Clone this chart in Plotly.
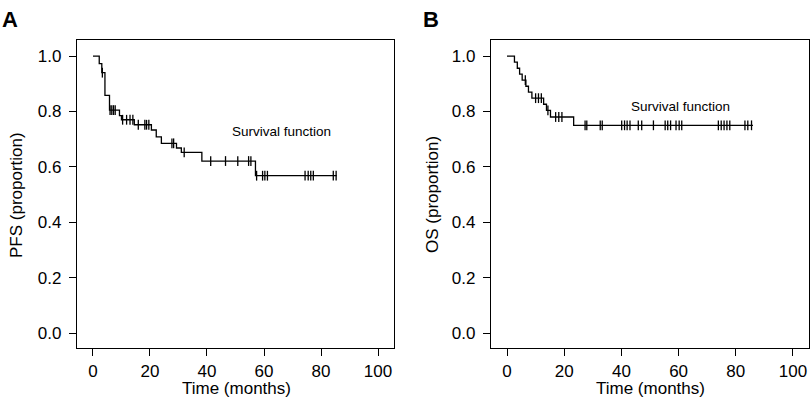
import plotly.graph_objects as go

# ---------------- data ----------------
pfs_event_times = [0, 2.2, 3.1, 4.2, 5.8, 9.3, 10.0, 14.5, 20.5, 22.2, 24.0, 29.3, 31.0, 38.2, 57.0]
pfs_surv = [1.0, 0.973, 0.94, 0.858, 0.805, 0.785, 0.770, 0.752, 0.733, 0.708, 0.685, 0.668, 0.652, 0.621, 0.568]
pfs_end = 85.5
pfs_censor = [3.3, 6.0, 6.6, 7.2, 7.8, 10.4, 11.8, 13.0, 14.0, 15.9, 18.2, 18.8, 19.6,
              27.7, 28.3, 32.0, 41.3, 46.5, 50.8, 54.6, 55.4, 57.4, 59.5, 60.3, 61.2,
              74.4, 75.5, 76.4, 77.3, 84.3, 85.3]

os_event_times = [0, 2.6, 3.6, 4.4, 5.3, 6.6, 7.5, 8.7, 12.8, 13.8, 15.2, 23.3]
os_surv = [1.0, 0.978, 0.956, 0.935, 0.913, 0.891, 0.870, 0.848, 0.826, 0.804, 0.780, 0.750]
os_end = 86.0
os_censor = [6.4, 10.0, 11.0, 12.0, 14.3, 17.0, 18.1, 19.2, 27.3, 27.9, 32.6, 33.3,
             40.1, 41.1, 42.0, 43.0, 45.9, 47.1, 51.2, 55.3, 56.2, 57.2, 59.1, 60.2, 61.1,
             73.9, 74.9, 75.9, 76.9, 77.9, 83.2, 84.2, 85.5]

x_ticks = [0, 20, 40, 60, 80, 100]
y_ticks = [0.0, 0.2, 0.4, 0.6, 0.8, 1.0]
y_tick_labels = ["0.0", "0.2", "0.4", "0.6", "0.8", "1.0"]

panel_labels = ["A", "B"]
y_titles = ["PFS (proportion)", "OS (proportion)"]
x_title = "Time (months)"
curve_label = "Survival function"


def surv_at(t, times, surv):
    s = surv[0]
    for ti, si in zip(times, surv):
        if ti <= t:
            s = si
    return s


W, H = 810, 401
FONT = "Liberation Sans, Arial, Helvetica, sans-serif"

fig = go.Figure()

panels = [
    (pfs_event_times, pfs_surv, pfs_end, pfs_censor, "x", "y"),
    (os_event_times, os_surv, os_end, os_censor, "x2", "y2"),
]
for times, surv, end, cens, xa, ya in panels:
    fig.add_trace(go.Scatter(
        x=times + [end], y=surv + [surv[-1]], mode="lines",
        line=dict(color="black", width=1.3, shape="hv"),
        xaxis=xa, yaxis=ya, showlegend=False, hoverinfo="skip"))
    fig.add_trace(go.Scatter(
        x=cens, y=[surv_at(c, times, surv) for c in cens], mode="markers",
        marker=dict(symbol="line-ns-open", size=7, color="black",
                    line=dict(color="black", width=1.3)),
        xaxis=xa, yaxis=ya, showlegend=False, hoverinfo="skip"))

ydom = [1 - 348 / H, 1 - 40 / H]
xdomA = [77 / W, 394 / W]
xdomB = [491 / W, 809 / W]

axis_common = dict(
    showgrid=False, zeroline=False, showline=True, linecolor="black", linewidth=1.3,
    mirror=True, ticks="outside", ticklen=7, tickwidth=1.2, tickcolor="black",
    tickfont=dict(family=FONT, size=17, color="black"),
)

xcommon = dict(axis_common, range=[-5.6, 105.6], tickvals=x_ticks,
               ticktext=[str(v) for v in x_ticks])
ycommon = dict(axis_common, range=[-0.054, 1.058], tickvals=y_ticks, ticktext=y_tick_labels,
               ticklabelstandoff=4)

fig.update_layout(
    width=W, height=H,
    margin=dict(l=0, r=0, t=0, b=0),
    paper_bgcolor="white", plot_bgcolor="white",
    xaxis=dict(xcommon, domain=xdomA, anchor="y"),
    yaxis=dict(ycommon, domain=ydom, anchor="x"),
    xaxis2=dict(xcommon, domain=xdomB, anchor="y2"),
    yaxis2=dict(ycommon, domain=ydom, anchor="x2"),
    font=dict(family=FONT, color="black"),
)

ann = []
# panel letters
for lab, px in zip(panel_labels, [10, 431]):
    ann.append(dict(text="<b>%s</b>" % lab, x=px / W, y=1 - 19 / H, xref="paper", yref="paper",
                    showarrow=False, font=dict(family=FONT, size=22, color="black"),
                    xanchor="center", yanchor="middle"))
# y titles
for lab, px in zip(y_titles, [16, 432]):
    ann.append(dict(text=lab, x=px / W, y=1 - 195 / H, xref="paper", yref="paper",
                    showarrow=False, textangle=-90, font=dict(family=FONT, size=17, color="black"),
                    xanchor="center", yanchor="middle"))
# x titles
for px in [236, 650]:
    ann.append(dict(text=x_title, x=px / W, y=1 - 388 / H, xref="paper", yref="paper",
                    showarrow=False, font=dict(family=FONT, size=17, color="black"),
                    xanchor="center", yanchor="middle"))
# curve labels
ann.append(dict(text=curve_label, x=66.3, y=0.728, xref="x", yref="y", showarrow=False,
                font=dict(family=FONT, size=13.5, color="black"), xanchor="center", yanchor="middle"))
ann.append(dict(text=curve_label, x=60.5, y=0.818, xref="x2", yref="y2", showarrow=False,
                font=dict(family=FONT, size=13.5, color="black"), xanchor="center", yanchor="middle"))
fig.update_layout(annotations=ann)

fig.write_html(
    "out.html",
    config={"displayModeBar": False},
    post_script="document.body.style.margin='0';document.body.style.overflow='hidden';",
)
